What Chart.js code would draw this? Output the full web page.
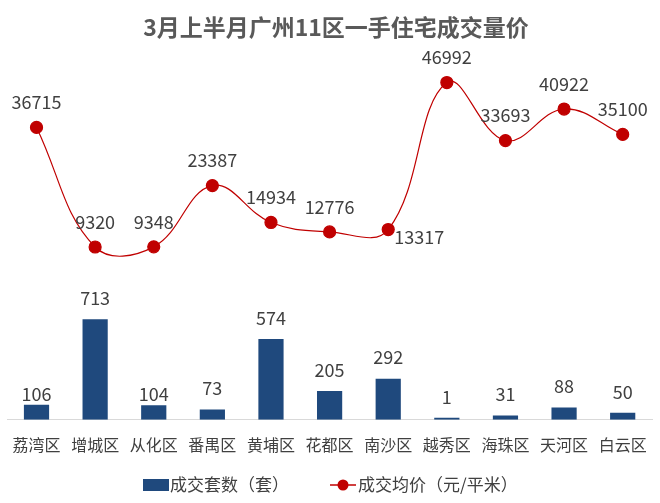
<!DOCTYPE html>
<html>
<head>
<meta charset="utf-8">
<script src="https://cdn.jsdelivr.net/npm/chart.js@4.4.0/dist/chart.umd.min.js"></script>
<style>
  html, body { margin: 0; padding: 0; background: #fff; }
  #wrap { width: 660px; height: 503px; }
</style>
</head>
<body>
<div id="wrap"><canvas id="chart"></canvas></div>
<script>
// chart data
const districts = ["荔湾区", "增城区", "从化区", "番禺区", "黄埔区", "花都区", "南沙区", "越秀区", "海珠区", "天河区", "白云区"];
const units = [106, 713, 104, 73, 574, 205, 292, 1, 31, 88, 50];
const avgPrice = [36715, 9320, 9348, 23387, 14934, 12776, 13317, 46992, 33693, 40922, 35100];
const seriesNames = ["成交套数（套）", "成交均价（元/平米）"];
const titleText = "3月上半月广州11区一手住宅成交量价";

const barColor = "#1F497D";
const lineColor = "#C00000";
const textColor = "#404040";
const font = "'Noto Sans CJK SC', 'Noto Sans', sans-serif";

// title, value labels and legend are drawn by hand
const decorations = {
    id: "decorations",
    afterDatasetsDraw(chart) {
        const ctx = chart.ctx;
        ctx.save();

        // title
        ctx.fillStyle = "#595959";
        ctx.font = "bold 23px " + font;
        ctx.textAlign = "center";
        ctx.textBaseline = "middle";
        ctx.fillText(titleText, 336, 27);

        // value labels
        ctx.fillStyle = textColor;
        ctx.font = "18px " + font;
        chart.getDatasetMeta(0).data.forEach((bar, i) => {
            const gap = (i === 0 || i === 2) ? 11 : 21; // first labels sit lower in the original
            ctx.fillText(units[i], bar.x, bar.y - gap);
        });
        chart.getDatasetMeta(1).data.forEach((pt, i) => {
            if (i === 6) {
                ctx.textAlign = "left";
                ctx.fillText(avgPrice[i], pt.x + 6, pt.y + 8);
                ctx.textAlign = "center";
            } else {
                ctx.fillText(avgPrice[i], pt.x, pt.y - 25);
            }
        });

        // legend
        const ly = 485;
        ctx.font = "17px " + font;
        ctx.textAlign = "left";
        ctx.fillStyle = barColor;
        ctx.fillRect(143, ly - 6, 26, 12);
        ctx.fillStyle = textColor;
        ctx.fillText(seriesNames[0], 170, ly);

        ctx.strokeStyle = lineColor;
        ctx.lineWidth = 1.5;
        ctx.beginPath(); ctx.moveTo(330, ly); ctx.lineTo(356, ly); ctx.stroke();
        ctx.fillStyle = lineColor;
        ctx.beginPath(); ctx.arc(343, ly, 5.5, 0, Math.PI * 2); ctx.fill();
        ctx.fillStyle = textColor;
        ctx.fillText(seriesNames[1], 358, ly);

        ctx.restore();
    }
};

new Chart(document.getElementById("chart"), {
    data: {
        labels: districts,
        datasets: [
            {
                type: "bar",
                label: seriesNames[0],
                data: units,
                backgroundColor: barColor,
                yAxisID: "yBar",
                barPercentage: 0.43,
                categoryPercentage: 1,
                minBarLength: 2,
                order: 2
            },
            {
                type: "line",
                label: seriesNames[1],
                data: avgPrice,
                borderColor: lineColor,
                backgroundColor: lineColor,
                borderWidth: 1.2,
                pointRadius: 6,
                pointHoverRadius: 6,
                tension: 0.4,
                yAxisID: "yLine",
                order: 1
            }
        ]
    },
    options: {
        responsive: true,
        maintainAspectRatio: false,
        animation: false,
        layout: { padding: { left: -3, right: 8, top: 50, bottom: 40 } },
        scales: {
            x: {
                grid: { display: false },
                border: { display: true, color: "#D9D9D9" },
                ticks: { color: textColor, font: { size: 16, family: font }, padding: 8 }
            },
            yBar: {
                display: false,
                min: 0,
                max: 2623
            },
            yLine: {
                display: false,
                min: -30270,
                max: 54444
            }
        },
        plugins: {
            legend: { display: false },
            tooltip: { enabled: false }
        }
    },
    plugins: [decorations]
});
</script>
</body>
</html>
